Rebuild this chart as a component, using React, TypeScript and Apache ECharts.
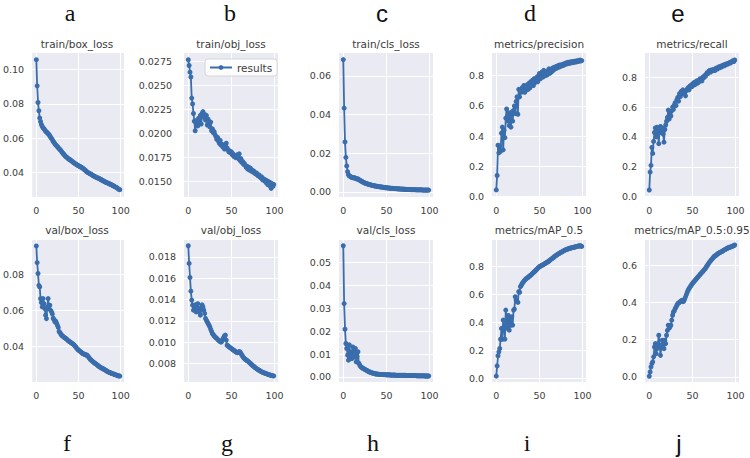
import React, { useEffect, useRef } from "react";
import * as echarts from "echarts";

const epochs: number[] = Array.from({ length: 100 }, (_, i) => i);

const titles = [
  "train/box_loss", "train/obj_loss", "train/cls_loss", "metrics/precision", "metrics/recall",
  "val/box_loss", "val/obj_loss", "val/cls_loss", "metrics/mAP_0.5", "metrics/mAP_0.5:0.95",
];
const letters = ["a", "b", "c", "d", "e", "f", "g", "h", "i", "j"];
const xTicks = [0, 50, 100];

const trainBoxLoss = [
  0.1059, 0.0906, 0.0808, 0.0760, 0.0718, 0.0697, 0.0680, 0.0668, 0.0660, 0.0655,
  0.0648, 0.0640, 0.0636, 0.0631, 0.0625, 0.0622, 0.0612, 0.0605, 0.0598, 0.0590,
  0.0580, 0.0575, 0.0566, 0.0560, 0.0555, 0.0549, 0.0545, 0.0537, 0.0533, 0.0528,
  0.0520, 0.0514, 0.0508, 0.0503, 0.0496, 0.0491, 0.0488, 0.0483, 0.0479, 0.0476,
  0.0473, 0.0469, 0.0465, 0.0462, 0.0457, 0.0454, 0.0450, 0.0447, 0.0444, 0.0441,
  0.0439, 0.0435, 0.0432, 0.0430, 0.0427, 0.0424, 0.0420, 0.0416, 0.0411, 0.0407,
  0.0402, 0.0399, 0.0396, 0.0393, 0.0390, 0.0388, 0.0385, 0.0381, 0.0378, 0.0376,
  0.0373, 0.0370, 0.0368, 0.0366, 0.0364, 0.0362, 0.0359, 0.0356, 0.0353, 0.0350,
  0.0348, 0.0345, 0.0343, 0.0340, 0.0338, 0.0336, 0.0334, 0.0331, 0.0329, 0.0327,
  0.0324, 0.0321, 0.0319, 0.0316, 0.0313, 0.0311, 0.0307, 0.0303, 0.0300, 0.0298,
];
const trainObjLoss = [
  0.0277, 0.0271, 0.0264, 0.0259, 0.0237, 0.0231, 0.0221, 0.0213, 0.0203, 0.0211,
  0.0214, 0.0208, 0.0216, 0.0212, 0.0219, 0.0210, 0.0221, 0.0223, 0.0217, 0.0220,
  0.0214, 0.0219, 0.0209, 0.0215, 0.0211, 0.0207, 0.0212, 0.0203, 0.0205, 0.0201,
  0.0202, 0.0199, 0.0197, 0.0194, 0.0196, 0.0192, 0.0190, 0.0193, 0.0188, 0.0189,
  0.0186, 0.0188, 0.0184, 0.0187, 0.0190, 0.0185, 0.0183, 0.0181, 0.0182, 0.0180,
  0.0181, 0.0178, 0.0179, 0.0176, 0.0177, 0.0175, 0.0176, 0.0178, 0.0174, 0.0179,
  0.0172, 0.0174, 0.0170, 0.0171, 0.0168, 0.0169, 0.0167, 0.0165, 0.0166, 0.0163,
  0.0165, 0.0162, 0.0164, 0.0161, 0.0162, 0.0160, 0.0161, 0.0159, 0.0158, 0.0159,
  0.0157, 0.0156, 0.0157, 0.0155, 0.0154, 0.0155, 0.0152, 0.0153, 0.0151, 0.0152,
  0.0149, 0.0151, 0.0147, 0.0150, 0.0146, 0.0149, 0.0143, 0.0148, 0.0145, 0.0147,
];
const trainClsLoss = [
  0.0684, 0.0433, 0.0258, 0.0178, 0.0134, 0.0104, 0.0088, 0.0082, 0.0080, 0.0076,
  0.0075, 0.0073, 0.0072, 0.0073, 0.0070, 0.0068, 0.0066, 0.0067, 0.0063, 0.0060,
  0.0057, 0.0055, 0.0052, 0.0050, 0.0047, 0.0045, 0.0044, 0.0042, 0.0041, 0.0039,
  0.0038, 0.0037, 0.0035, 0.0034, 0.0033, 0.0032, 0.0031, 0.0030, 0.0029, 0.0028,
  0.0028, 0.0027, 0.0026, 0.0025, 0.0025, 0.0024, 0.0023, 0.0023, 0.0022, 0.0021,
  0.0021, 0.0020, 0.0020, 0.0019, 0.0019, 0.0018, 0.0018, 0.0018, 0.0017, 0.0017,
  0.0016, 0.0016, 0.0016, 0.0015, 0.0015, 0.0015, 0.0014, 0.0014, 0.0014, 0.0014,
  0.0013, 0.0013, 0.0013, 0.0012, 0.0012, 0.0012, 0.0012, 0.0012, 0.0011, 0.0011,
  0.0011, 0.0011, 0.0011, 0.0011, 0.0010, 0.0010, 0.0010, 0.0010, 0.0010, 0.0010,
  0.0010, 0.0010, 0.0009, 0.0009, 0.0009, 0.0009, 0.0009, 0.0009, 0.0009, 0.0009,
];
const precision = [
  0.045, 0.140, 0.340, 0.290, 0.335, 0.300, 0.420, 0.460, 0.310, 0.440,
  0.390, 0.520, 0.580, 0.500, 0.555, 0.470, 0.540, 0.460, 0.560, 0.500,
  0.570, 0.600, 0.550, 0.630, 0.660, 0.545, 0.710, 0.660, 0.700, 0.690,
  0.720, 0.700, 0.735, 0.690, 0.720, 0.705, 0.740, 0.710, 0.750, 0.720,
  0.760, 0.745, 0.770, 0.735, 0.780, 0.755, 0.770, 0.790, 0.760, 0.800,
  0.815, 0.780, 0.800, 0.825, 0.790, 0.835, 0.810, 0.800, 0.830, 0.805,
  0.820, 0.845, 0.815, 0.840, 0.825, 0.850, 0.835, 0.855, 0.845, 0.860,
  0.850, 0.865, 0.855, 0.870, 0.860, 0.872, 0.865, 0.875, 0.868, 0.880,
  0.875, 0.885, 0.878, 0.888, 0.880, 0.890, 0.884, 0.892, 0.886, 0.894,
  0.888, 0.896, 0.890, 0.898, 0.893, 0.900, 0.895, 0.903, 0.898, 0.900,
];
const recall = [
  0.045, 0.165, 0.210, 0.330, 0.290, 0.370, 0.430, 0.460, 0.400, 0.465,
  0.440, 0.355, 0.450, 0.470, 0.430, 0.460, 0.420, 0.365, 0.450, 0.480,
  0.505, 0.530, 0.580, 0.520, 0.560, 0.540, 0.575, 0.600, 0.585, 0.615,
  0.630, 0.610, 0.650, 0.665, 0.640, 0.690, 0.670, 0.705, 0.690, 0.715,
  0.700, 0.690, 0.675, 0.710, 0.720, 0.730, 0.715, 0.740, 0.745, 0.735,
  0.755, 0.745, 0.765, 0.750, 0.770, 0.775, 0.760, 0.780, 0.770, 0.790,
  0.785, 0.775, 0.800, 0.795, 0.810, 0.805, 0.820, 0.830, 0.825, 0.840,
  0.845, 0.835, 0.848, 0.842, 0.850, 0.852, 0.845, 0.858, 0.862, 0.855,
  0.866, 0.870, 0.864, 0.874, 0.870, 0.878, 0.882, 0.876, 0.886, 0.884,
  0.890, 0.888, 0.894, 0.898, 0.895, 0.902, 0.906, 0.910, 0.905, 0.915,
];
const valBoxLoss = [
  0.0960, 0.0867, 0.0806, 0.0740, 0.0731, 0.0666, 0.0644, 0.0620, 0.0666, 0.0638,
  0.0610, 0.0573, 0.0554, 0.0620, 0.0666, 0.0610, 0.0629, 0.0600, 0.0592, 0.0580,
  0.0556, 0.0548, 0.0536, 0.0540, 0.0528, 0.0517, 0.0505, 0.0482, 0.0476, 0.0468,
  0.0461, 0.0458, 0.0453, 0.0449, 0.0446, 0.0443, 0.0439, 0.0434, 0.0430, 0.0427,
  0.0424, 0.0420, 0.0417, 0.0414, 0.0410, 0.0406, 0.0400, 0.0394, 0.0388, 0.0383,
  0.0378, 0.0375, 0.0371, 0.0367, 0.0363, 0.0359, 0.0357, 0.0355, 0.0353, 0.0351,
  0.0350, 0.0345, 0.0339, 0.0333, 0.0327, 0.0322, 0.0318, 0.0314, 0.0310, 0.0306,
  0.0303, 0.0300, 0.0296, 0.0292, 0.0288, 0.0285, 0.0282, 0.0279, 0.0277, 0.0274,
  0.0272, 0.0269, 0.0266, 0.0263, 0.0260, 0.0257, 0.0255, 0.0253, 0.0251, 0.0249,
  0.0247, 0.0245, 0.0244, 0.0242, 0.0240, 0.0238, 0.0237, 0.0235, 0.0234, 0.0233,
];
const valObjLoss = [
  0.01903, 0.01738, 0.01606, 0.01478, 0.01394, 0.01347, 0.01300, 0.01320, 0.01350, 0.01284,
  0.01310, 0.01360, 0.01284, 0.01316, 0.01253, 0.01300, 0.01350, 0.01330, 0.01300, 0.01269,
  0.01222, 0.01205, 0.01190, 0.01175, 0.01160, 0.01144, 0.01120, 0.01100, 0.01080, 0.01070,
  0.01059, 0.01050, 0.01042, 0.01035, 0.01027, 0.01019, 0.01012, 0.01005, 0.01000, 0.01010,
  0.01028, 0.01045, 0.01060, 0.01066, 0.01020, 0.00972, 0.00965, 0.00958, 0.00952, 0.00946,
  0.00940, 0.00934, 0.00928, 0.00922, 0.00916, 0.00910, 0.00905, 0.00902, 0.00906, 0.00912,
  0.00908, 0.00895, 0.00880, 0.00868, 0.00856, 0.00847, 0.00840, 0.00834, 0.00828, 0.00822,
  0.00816, 0.00808, 0.00800, 0.00793, 0.00785, 0.00778, 0.00772, 0.00765, 0.00759, 0.00753,
  0.00747, 0.00742, 0.00737, 0.00732, 0.00727, 0.00722, 0.00719, 0.00715, 0.00712, 0.00709,
  0.00706, 0.00703, 0.00700, 0.00697, 0.00694, 0.00691, 0.00689, 0.00687, 0.00685, 0.00684,
];
const valClsLoss = [
  0.0572, 0.0320, 0.0208, 0.0146, 0.0124, 0.0095, 0.0073, 0.0140, 0.0092, 0.0110,
  0.0080, 0.0131, 0.0085, 0.0102, 0.0124, 0.0066, 0.0090, 0.0110, 0.0060, 0.0052,
  0.0046, 0.0042, 0.0040, 0.0037, 0.0035, 0.0033, 0.0031, 0.0029, 0.0027, 0.0024,
  0.0022, 0.0021, 0.0020, 0.0018, 0.0017, 0.0016, 0.0015, 0.0014, 0.0013, 0.0013,
  0.0012, 0.0012, 0.0011, 0.0011, 0.0011, 0.0011, 0.0010, 0.0010, 0.0010, 0.0010,
  0.0009, 0.0009, 0.0009, 0.0009, 0.0009, 0.0008, 0.0008, 0.0008, 0.0008, 0.0008,
  0.0008, 0.0007, 0.0007, 0.0007, 0.0007, 0.0007, 0.0007, 0.0007, 0.0007, 0.0007,
  0.0007, 0.0007, 0.0007, 0.0006, 0.0006, 0.0006, 0.0006, 0.0006, 0.0006, 0.0006,
  0.0006, 0.0006, 0.0006, 0.0006, 0.0006, 0.0005, 0.0005, 0.0005, 0.0005, 0.0005,
  0.0005, 0.0005, 0.0005, 0.0005, 0.0005, 0.0004, 0.0004, 0.0004, 0.0004, 0.0004,
];
const mAP50 = [
  0.017, 0.090, 0.162, 0.190, 0.214, 0.280, 0.357, 0.280, 0.417, 0.369,
  0.281, 0.488, 0.420, 0.357, 0.450, 0.345, 0.430, 0.380, 0.440, 0.381,
  0.488, 0.495, 0.583, 0.560, 0.550, 0.543, 0.620, 0.615, 0.655, 0.665,
  0.679, 0.685, 0.695, 0.702, 0.708, 0.714, 0.718, 0.722, 0.728, 0.733,
  0.738, 0.743, 0.750, 0.755, 0.762, 0.767, 0.773, 0.780, 0.786, 0.792,
  0.798, 0.801, 0.805, 0.808, 0.811, 0.814, 0.818, 0.822, 0.826, 0.830,
  0.833, 0.838, 0.843, 0.848, 0.853, 0.857, 0.862, 0.867, 0.872, 0.877,
  0.881, 0.885, 0.889, 0.893, 0.897, 0.900, 0.903, 0.907, 0.910, 0.914,
  0.917, 0.919, 0.922, 0.924, 0.927, 0.929, 0.930, 0.932, 0.933, 0.935,
  0.936, 0.938, 0.940, 0.941, 0.943, 0.945, 0.946, 0.947, 0.945, 0.942,
];
const mAP5095 = [
  0.004, 0.027, 0.054, 0.072, 0.081, 0.108, 0.161, 0.179, 0.125, 0.152,
  0.179, 0.224, 0.170, 0.116, 0.161, 0.197, 0.170, 0.152, 0.197, 0.179,
  0.224, 0.250, 0.278, 0.262, 0.269, 0.278, 0.305, 0.331, 0.349, 0.355,
  0.367, 0.375, 0.385, 0.394, 0.397, 0.400, 0.405, 0.408, 0.412, 0.404,
  0.407, 0.418, 0.430, 0.442, 0.455, 0.466, 0.474, 0.481, 0.488, 0.495,
  0.502, 0.507, 0.513, 0.518, 0.524, 0.529, 0.535, 0.540, 0.545, 0.551,
  0.556, 0.561, 0.566, 0.572, 0.577, 0.582, 0.590, 0.597, 0.604, 0.611,
  0.618, 0.623, 0.629, 0.634, 0.640, 0.645, 0.649, 0.652, 0.656, 0.660,
  0.663, 0.666, 0.668, 0.671, 0.673, 0.676, 0.679, 0.682, 0.684, 0.687,
  0.690, 0.692, 0.694, 0.696, 0.697, 0.699, 0.701, 0.703, 0.705, 0.708,
];

const seriesValues = [
  trainBoxLoss, trainObjLoss, trainClsLoss, precision, recall,
  valBoxLoss, valObjLoss, valClsLoss, mAP50, mAP5095,
];

// axis configuration: [min, max, tick step, decimals]
const yAxisSpec: [number, number, number, number][] = [
  [0.0255, 0.1098, 0.02, 2],
  [0.0134, 0.0284, 0.0025, 4],
  [-0.0027, 0.0718, 0.02, 2],
  [-0.002, 0.95, 0.2, 1],
  [-0.002, 0.962, 0.2, 1],
  [0.0200, 0.0993, 0.02, 2],
  [0.00627, 0.01957, 0.002, 3],
  [-0.0022, 0.0597, 0.01, 2],
  [-0.025, 0.988, 0.2, 1],
  [-0.027, 0.735, 0.2, 1],
];

const COL_LEFT = [30, 184, 339, 492, 645];
const PLOT_W = 94;
const ROW_TOP = [53, 240];
const ROW_H = [144, 142];
const BLUE = "#3a6dac";
const TEXT = "#3c3c3c";
const FONT = "DejaVu Sans";

export default function App() {
  const ref = useRef<HTMLDivElement>(null);
  useEffect(() => {
    document.body.style.margin = "0";
    if (!ref.current) return;
    const chart = echarts.init(ref.current, undefined, { renderer: "svg" });
    const grids: any[] = [];
    const xAxes: any[] = [];
    const yAxes: any[] = [];
    const series: any[] = [];
    const graphics: any[] = [];
    for (let i = 0; i < 10; i++) {
      const row = Math.floor(i / 5);
      const col = i % 5;
      const left = COL_LEFT[col];
      const top = ROW_TOP[row];
      grids.push({
        left, top, width: PLOT_W, height: ROW_H[row],
        show: true, backgroundColor: "#eaeaf2", borderWidth: 0,
      });
      xAxes.push({
        gridIndex: i, type: "value", min: -4.95, max: 103.95,
        minInterval: 50, maxInterval: 50,
        axisLine: { show: false }, axisTick: { show: false },
        axisLabel: {
          showMinLabel: false, showMaxLabel: false, color: TEXT,
          fontSize: 9.5, fontFamily: FONT, margin: 8,
          formatter: (v: number) => (xTicks.includes(Math.round(v)) ? String(Math.round(v)) : ""),
        },
        splitLine: { show: true, showMinLine: false, showMaxLine: false, lineStyle: { color: "#ffffff", width: 1 } },
      });
      const [mn, mx, step, dec] = yAxisSpec[i];
      yAxes.push({
        gridIndex: i, type: "value", min: mn, max: mx,
        minInterval: step, maxInterval: step,
        axisLine: { show: false }, axisTick: { show: false },
        axisLabel: {
          showMinLabel: false, showMaxLabel: false, color: TEXT,
          fontSize: 9.5, fontFamily: FONT, margin: i === 1 ? 12 : 8,
          formatter: (v: number) => v.toFixed(dec),
        },
        splitLine: { show: true, showMinLine: false, showMaxLine: false, lineStyle: { color: "#ffffff", width: 1 } },
      });
      series.push({
        type: "line", name: "results", xAxisIndex: i, yAxisIndex: i,
        data: epochs.map((e, k) => [e, seriesValues[i][k]]),
        symbol: "circle", symbolSize: 5, showSymbol: true,
        lineStyle: { color: BLUE, width: 1.8 },
        itemStyle: { color: BLUE },
        emphasis: { disabled: true },
      });
      graphics.push({
        type: "text", x: left + PLOT_W / 2, y: row === 0 ? 44 : 230,
        style: { text: titles[i], fill: TEXT, fontSize: 10.5, fontFamily: FONT, align: "center", verticalAlign: "middle" },
      });
      const serifLetter = !["c", "e", "j"].includes(letters[i]);
      const letterX = [70, 230, 382, 530, 678][col] + (row === 1 ? [-3, -3, -9, -3, 1][col] : 0);
      graphics.push({
        type: "text", x: letterX, y: row === 0 ? 13 : 443,
        style: {
          text: letters[i], fill: "#111111", fontSize: 24,
          fontFamily: serifLetter ? "Liberation Serif" : "Liberation Sans",
          align: "center", verticalAlign: "middle",
        },
      });
    }
    chart.setOption({
      animation: false,
      backgroundColor: "#ffffff",
      grid: grids,
      xAxis: xAxes,
      yAxis: yAxes,
      series,
      graphic: graphics,
      legend: {
        data: ["results"], left: 205, top: 59,
        itemWidth: 22, itemHeight: 6, itemGap: 6,
        padding: [3, 5, 3, 4],
        backgroundColor: "rgba(255,255,255,0.85)", borderColor: "#d6d6d6", borderWidth: 1, borderRadius: 3,
        textStyle: { color: TEXT, fontSize: 10.5, fontFamily: FONT },
        selectedMode: false,
      },
    });
    return () => chart.dispose();
  }, []);
  return <div ref={ref} style={{ width: 750, height: 458 }} />;
}
